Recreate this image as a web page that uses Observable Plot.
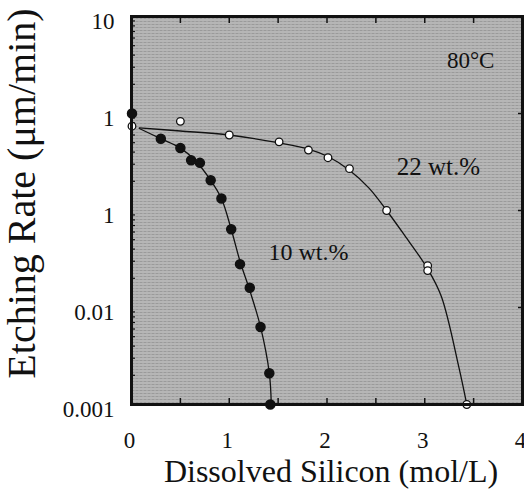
<!DOCTYPE html>
<html>
<head>
<meta charset="utf-8">
<script src="https://cdn.jsdelivr.net/npm/d3@7"></script>
<script src="https://cdn.jsdelivr.net/npm/@observablehq/plot@0.6"></script>
<style>
  html, body { margin: 0; padding: 0; background: #fff; }
  #chart svg { display: block; }
</style>
</head>
<body>
<div id="chart"></div>
<script>
// Measured points, 10 wt.% (filled circles)
const silicon10 = [0.005, 0.30, 0.50, 0.61, 0.70, 0.81, 0.92, 1.02, 1.11, 1.21, 1.32, 1.41, 1.42];
const rate10    = [1.0, 0.55, 0.44, 0.33, 0.31, 0.205, 0.133, 0.064, 0.028, 0.016, 0.0063, 0.0021, 0.001];
// Measured points, 22 wt.% (open circles)
const silicon22 = [0.005, 0.50, 1.00, 1.51, 1.81, 2.01, 2.23, 2.61, 3.03, 3.03, 3.43];
const rate22    = [0.74, 0.83, 0.60, 0.51, 0.42, 0.35, 0.27, 0.10, 0.027, 0.024, 0.001];
// Fitted curves
const fit10x = [0.08, 0.30, 0.50, 0.65, 0.81, 0.92, 1.02, 1.11, 1.21, 1.32, 1.41, 1.43];
const fit10y = [0.70, 0.55, 0.44, 0.33, 0.205, 0.133, 0.064, 0.030, 0.015, 0.0063, 0.0021, 0.001];
const fit22x = [0.08, 0.50, 1.00, 1.50, 1.81, 2.01, 2.23, 2.43, 2.61, 2.78, 3.03, 3.17, 3.35, 3.43];
const fit22y = [0.71, 0.66, 0.60, 0.50, 0.43, 0.36, 0.26, 0.17, 0.10, 0.058, 0.025, 0.013, 0.0024, 0.001];
// Axes
const xTicks = [0, 1, 2, 3, 4];
const xTickLabels = ["0", "1", "2", "3", "4"];
const xMinorTicks = [0.5, 1, 1.5, 2, 2.5, 3, 3.5];
const yTicks = [10, 1, 0.1, 0.01, 0.001];
const yTickLabels = ["10", "1", "1", "0.01", "0.001"];
const yMinorTicks = [0.002,0.003,0.004,0.005,0.006,0.007,0.008,0.009,0.02,0.03,0.04,0.05,0.06,0.07,0.08,0.09,0.2,0.3,0.4,0.5,0.6,0.7,0.8,0.9,2,3,4,5,6,7,8,9];
const yRightTicks = [1, 0.1, 0.01];
const xLabel = "Dissolved Silicon (mol/L)";
const yLabel = "Etching Rate (μm/min)";
const notes = [
  {x: 3.47, y: 3.5, text: "80°C", size: 23},
  {x: 3.14, y: 0.284, text: "22 wt.%", size: 25},
  {x: 1.81, y: 0.037, text: "10 wt.%", size: 24}
];

const pts10 = silicon10.map((x, i) => ({x, y: rate10[i]}));
const pts22 = silicon22.map((x, i) => ({x, y: rate22[i]}));
const line10 = fit10x.map((x, i) => ({x, y: fit10y[i]}));
const line22 = fit22x.map((x, i) => ({x, y: fit22y[i]}));
const yLabelRows = yTicks.map((v, i) => ({v, t: yTickLabels[i]}));
const xLabelRows = xTicks.map((v, i) => ({v, t: xTickLabels[i]}));

const chart = Plot.plot({
  width: 524,
  height: 498,
  marginLeft: 131,
  marginRight: 2,
  marginTop: 16,
  marginBottom: 94,
  style: {fontFamily: "'Liberation Serif', 'DejaVu Serif', serif", fontSize: "22px", background: "#fff", color: "#111"},
  x: {domain: [0, 4], axis: null},
  y: {type: "log", domain: [0.001, 10], axis: null},
  marks: [
    Plot.frame({fill: "url(#tex)", stroke: "none"}),
    // minor ticks (inward)
    Plot.axisX({anchor: "bottom", ticks: xMinorTicks, tickSize: 6, dy: -6, tickFormat: () => "", label: null, strokeWidth: 1.5}),
    Plot.axisX({anchor: "top", ticks: xMinorTicks, tickSize: 6, dy: 6, tickFormat: () => "", label: null, strokeWidth: 1.5}),
    Plot.axisY({anchor: "left", ticks: yMinorTicks, tickSize: 4, dx: 4, tickFormat: () => "", label: null, strokeWidth: 1.2}),
    Plot.axisY({anchor: "right", ticks: yRightTicks, tickSize: 5, dx: -5, tickFormat: () => "", label: null, strokeWidth: 1.5}),
    // tick labels
    Plot.text(xLabelRows, {x: "v", text: "t", frameAnchor: "bottom", dx: -2, dy: 43, fontSize: 23, fill: "#111"}),
    Plot.text(yLabelRows, {y: "v", text: "t", frameAnchor: "left", textAnchor: "end", dx: -17, dy: 5, fontSize: 23, fill: "#111"}),
    // curves
    Plot.line(line10, {x: "x", y: "y", curve: "catmull-rom", stroke: "#111", strokeWidth: 1.3}),
    Plot.line(line22, {x: "x", y: "y", curve: "catmull-rom", stroke: "#111", strokeWidth: 1.3}),
    // points
    Plot.dot(pts10, {x: "x", y: "y", r: 4.5, fill: "#111", stroke: "#111"}),
    Plot.dot(pts22, {x: "x", y: "y", r: 3.8, fill: "#fff", stroke: "#111", strokeWidth: 1.3}),
    // annotations
    Plot.text(notes, {x: "x", y: "y", text: "text", fontSize: d => d.size, fill: "#111"}),
    Plot.frame({stroke: "#111", strokeWidth: 3}),
    // axis titles
    Plot.text([xLabel], {frameAnchor: "bottom", dx: 4, dy: 77, fontSize: 32, fill: "#111"}),
    Plot.text([yLabel], {frameAnchor: "left", textAnchor: "middle", dx: -109, dy: -17, rotate: -90, fontSize: 40, fill: "#111"})
  ]
});

// textured gray background pattern
const ns = "http://www.w3.org/2000/svg";
const defs = document.createElementNS(ns, "defs");
defs.innerHTML = `<pattern id="tex" width="4" height="3" patternUnits="userSpaceOnUse">
  <rect width="4" height="3" fill="#9a9a9a"/>
  <rect y="1" width="4" height="1" fill="#d2d2d2"/>
  <rect x="2" width="1" height="3" fill="#b5b5b5"/>
</pattern>`;
chart.insertBefore(defs, chart.firstChild);
document.getElementById("chart").appendChild(chart);
</script>
</body>
</html>
